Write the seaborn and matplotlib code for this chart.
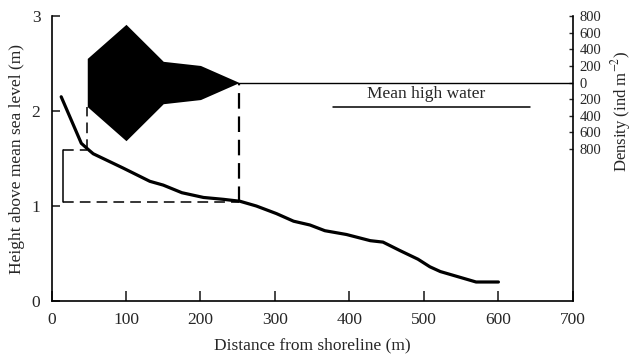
import matplotlib
matplotlib.use("Agg")
import matplotlib.pyplot as plt
import seaborn as sns
import numpy as np
import pandas as pd

# Beach profile (distance from shoreline in m, height above mean sea level in m)
profile_x = [13, 40, 50, 56, 96, 132, 150, 175, 204, 231, 253, 275, 302, 325,
             347, 367, 396, 428, 445, 468, 492, 508, 522, 570, 600]
profile_h = [2.15, 1.66, 1.59, 1.55, 1.40, 1.26, 1.22, 1.14, 1.09, 1.07, 1.05,
             1.00, 0.92, 0.84, 0.80, 0.74, 0.70, 0.635, 0.62, 0.53, 0.44, 0.36,
             0.31, 0.20, 0.20]

# Kite plot of density along the shore (ind m^-2)
kite_x = [48, 100, 150, 200, 252]
kite_density = [290, 700, 255, 205, 0]

# Mean high water level (m)
mhw_level = 2.04
mhw_x = [378, 642]

# Zone markers on the profile
zone_low_h = 1.045
zone_high_h = 1.59
zone_left_x = 16

x_ticks = [0, 100, 200, 300, 400, 500, 600, 700]
h_ticks = [0, 1, 2, 3]
density_ticks = [800, 600, 400, 200, 0, -200, -400, -600, -800]

# height where the density axis is zero, and height spanned by 800 ind m^-2
kite_base = 2.3
kite_span = 0.7

sns.set_theme(style="ticks")
plt.rcParams["font.family"] = ["Liberation Serif", "DejaVu Serif"]
plt.rcParams["mathtext.fontset"] = "stix"

fig = plt.figure(figsize=(6.32, 3.56), dpi=100)
ax = fig.add_axes([0.0815, 0.1545, 0.825, 0.8005])

df = pd.DataFrame({"distance": profile_x, "height": profile_h})
sns.lineplot(data=df, x="distance", y="height", ax=ax, color="black",
             linewidth=2.3, sort=False)

# zone bracket and dashed guides
dash = dict(color="black", linewidth=1.1, linestyle=(0, (7, 4)))
ax.plot([zone_left_x, zone_left_x], [zone_low_h, zone_high_h], color="black", linewidth=1.1)
ax.plot([zone_left_x, kite_x[0]], [zone_high_h, zone_high_h], **dash)
ax.plot([zone_left_x, kite_x[-1]], [zone_low_h, zone_low_h], **dash)
kite_low_edge = kite_base - kite_density[0] / 800 * kite_span
ax.plot([kite_x[0], kite_x[0]], [zone_high_h, kite_low_edge], **dash)
ax.plot([kite_x[-1], kite_x[-1]], [zone_low_h, kite_base], color="black",
        linewidth=1.6, linestyle=(0, (7, 3.5)))

# mean high water
ax.plot(mhw_x, [mhw_level, mhw_level], color="black", linewidth=1.1)
ax.text(np.mean(mhw_x) - 7, mhw_level + 0.05, "Mean high water",
        ha="center", va="bottom", fontsize=12.5)

ax.set_xlim(0, 700)
ax.set_ylim(0, 3)
ax.set_xticks(x_ticks)
ax.set_yticks(h_ticks)
ax.set_xlabel("Distance from shoreline (m)", fontsize=12.5, labelpad=7)
ax.set_ylabel("Height above mean sea level (m)", fontsize=12.5, labelpad=5)
ax.tick_params(axis="x", direction="in", length=7, width=1.2, labelsize=12.5, pad=8)
ax.tick_params(axis="y", direction="in", length=6, width=1.2, labelsize=12.5, pad=8)
ax.spines["top"].set_visible(False)
ax.spines["right"].set_visible(False)
for s in ("left", "bottom"):
    ax.spines[s].set_linewidth(1.2)
    ax.spines[s].set_color("black")

# density axis on the right
ax2 = ax.twinx()
scale = 800 / kite_span
ax2.set_ylim((0 - kite_base) * scale, (3 - kite_base) * scale)
kd = np.array(kite_density)
ax2.fill_between(kite_x, -kd, kd, color="black", linewidth=0)
ax2.plot([kite_x[-1], 700], [0, 0], color="black", linewidth=1.0)
ax2.set_yticks(density_ticks)
ax2.set_yticklabels([str(abs(v)) for v in density_ticks])
ax2.tick_params(axis="y", direction="in", length=3, width=1.0, labelsize=10.5, pad=5)
ax2.set_ylabel("Density (ind m$^{-2}$)", fontsize=12)
ax2.yaxis.set_label_coords(1.092, 0.667)
ax2.yaxis.label.set_verticalalignment("center")
ax2.yaxis.label.set_horizontalalignment("center")
for s in ("top", "left", "bottom"):
    ax2.spines[s].set_visible(False)
ax2.spines["right"].set_linewidth(1.2)
ax2.spines["right"].set_color("black")

fig.savefig("out.png", dpi=100)
